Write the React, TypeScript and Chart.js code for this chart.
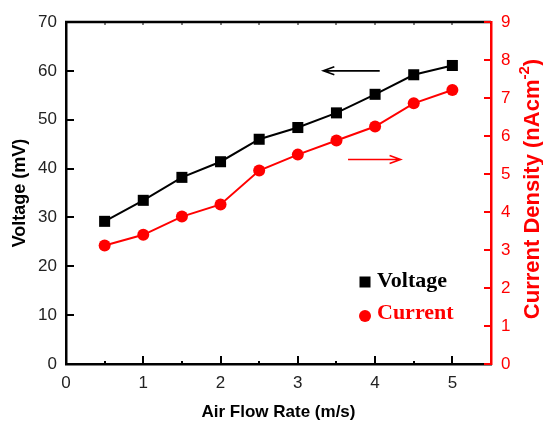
import React, { useEffect, useRef } from "react";
import { Chart, registerables } from "chart.js";

Chart.register(...registerables);

const airFlow = [0.5, 1, 1.5, 2, 2.5, 3, 3.5, 4, 4.5, 5];
const voltage = [29.2, 33.5, 38.2, 41.4, 46.0, 48.4, 51.4, 55.2, 59.2, 61.1];
const current = [3.12, 3.4, 3.88, 4.2, 5.09, 5.51, 5.88, 6.25, 6.86, 7.21];

const xTitle = "Air Flow Rate (m/s)";
const yLeftTitle = "Voltage (mV)";
const yRightTitle = "Current Density (nAcm";
const yRightSup = "-2";
const legendLabels = ["Voltage", "Current"];

const RED = "#ff0000";
const SANS = "Arial, 'Liberation Sans', sans-serif";

const decorPlugin = {
  id: "decor",
  afterDraw(chart: any) {
    const ctx = chart.ctx;
    const { left, right, top, bottom } = chart.chartArea;
    const xs = chart.scales.x;
    const yl = chart.scales.y;
    const yr = chart.scales.y1;
    ctx.save();
    // top border
    ctx.strokeStyle = "#000";
    ctx.lineWidth = 2.5;
    ctx.beginPath();
    ctx.moveTo(left - 1, top);
    ctx.lineTo(right, top);
    ctx.stroke();
    // tick marks
    ctx.lineWidth = 2;
    for (let v = 0; v <= 70; v += 10) {
      const y = Math.round(yl.getPixelForValue(v));
      ctx.beginPath();
      ctx.moveTo(left, y);
      ctx.lineTo(left + 8, y);
      ctx.stroke();
    }
    for (let v = 0.5; v <= 5.01; v += 0.5) {
      const x = Math.round(xs.getPixelForValue(v));
      const major = Math.abs(v - Math.round(v)) < 1e-6;
      ctx.lineWidth = 2;
      ctx.beginPath();
      ctx.moveTo(x, bottom);
      ctx.lineTo(x, bottom - (major ? 8 : 3));
      ctx.stroke();
      ctx.beginPath();
      ctx.lineWidth = 1;
      ctx.moveTo(x, top);
      ctx.lineTo(x, top + 3);
      ctx.stroke();
    }
    ctx.lineWidth = 2;
    ctx.strokeStyle = RED;
    for (let v = 0; v <= 9; v += 1) {
      const y = Math.round(yr.getPixelForValue(v));
      ctx.beginPath();
      ctx.moveTo(right, y);
      ctx.lineTo(right - 7, y);
      ctx.stroke();
    }
    // arrows
    const arrow = (x1: number, x2: number, y: number, color: string) => {
      ctx.strokeStyle = color;
      ctx.lineWidth = 1.6;
      ctx.beginPath();
      ctx.moveTo(x1, y);
      ctx.lineTo(x2, y);
      const dir = x2 > x1 ? -1 : 1;
      ctx.moveTo(x2 + dir * 11, y - 4);
      ctx.lineTo(x2, y);
      ctx.lineTo(x2 + dir * 11, y + 4);
      ctx.stroke();
    };
    arrow(xs.getPixelForValue(4.06), xs.getPixelForValue(3.33), yl.getPixelForValue(60), "#000");
    arrow(xs.getPixelForValue(3.65), xs.getPixelForValue(4.33), yr.getPixelForValue(5.38), RED);
    // legend
    const lx = 365;
    ctx.fillStyle = "#000";
    ctx.fillRect(lx - 5.5, 282 - 5.5, 11, 11);
    ctx.fillStyle = RED;
    ctx.beginPath();
    ctx.arc(lx, 316, 6, 0, Math.PI * 2);
    ctx.fill();
    ctx.font = "bold 22px 'Liberation Serif', 'Times New Roman', serif";
    ctx.textBaseline = "middle";
    ctx.textAlign = "left";
    ctx.fillStyle = "#000";
    ctx.fillText(legendLabels[0], 377, 281);
    ctx.fillStyle = RED;
    ctx.fillText(legendLabels[1], 377, 313);
    // right title with superscript
    ctx.translate(539, 189);
    ctx.rotate(-Math.PI / 2);
    const mainFont = "bold 22px " + SANS;
    const supFont = "bold 15px " + SANS;
    ctx.font = mainFont;
    const w1 = ctx.measureText(yRightTitle).width;
    const w3 = ctx.measureText(")").width;
    ctx.font = supFont;
    const w2 = ctx.measureText(yRightSup).width;
    const total = w1 + w2 + w3;
    let sx = -total / 2;
    ctx.fillStyle = RED;
    ctx.textBaseline = "alphabetic";
    ctx.font = mainFont;
    ctx.fillText(yRightTitle, sx, 0);
    sx += w1;
    ctx.font = supFont;
    ctx.fillText(yRightSup, sx, -10);
    sx += w2;
    ctx.font = mainFont;
    ctx.fillText(")", sx, 0);
    ctx.restore();
  },
};

export default function App() {
  const ref = useRef<HTMLCanvasElement | null>(null);
  useEffect(() => {
    if (!ref.current) return;
    const tickFont = { family: SANS, size: 17 };
    const chart = new Chart(ref.current, {
      type: "line",
      data: {
        datasets: [
          {
            label: "Voltage",
            data: airFlow.map((x, i) => ({ x, y: voltage[i] })),
            yAxisID: "y",
            borderColor: "#000",
            backgroundColor: "#000",
            borderWidth: 2,
            pointStyle: "rect",
            pointRadius: 7.8,
            pointBorderWidth: 0,
          },
          {
            label: "Current",
            data: airFlow.map((x, i) => ({ x, y: current[i] })),
            yAxisID: "y1",
            borderColor: RED,
            backgroundColor: RED,
            borderWidth: 2,
            pointStyle: "circle",
            pointRadius: 6,
            pointBorderWidth: 0,
          },
        ],
      },
      options: {
        animation: false,
        responsive: false,
        maintainAspectRatio: false,
        layout: { padding: { top: 22, left: 0, right: 0, bottom: 0 } },
        plugins: { legend: { display: false }, tooltip: { enabled: false } },
        scales: {
          x: {
            type: "linear",
            min: 0,
            max: 5.5,
            grid: { display: false, drawTicks: false },
            border: { color: "#000", width: 2.5 },
            ticks: { stepSize: 1, includeBounds: false, color: "#222", font: tickFont, padding: 9, maxRotation: 0 },
            title: {
              display: true,
              text: xTitle,
              color: "#000",
              font: { family: SANS, size: 17, weight: "bold" },
              padding: { top: 0, bottom: -1 },
            },
            afterFit: (s: any) => {
              s.height = 58;
            },
          },
          y: {
            type: "linear",
            position: "left",
            min: 0,
            max: 70,
            grid: { display: false, drawTicks: false },
            border: { color: "#000", width: 2.5 },
            ticks: { stepSize: 10, color: "#222", font: tickFont, padding: 9 },
            title: {
              display: true,
              text: yLeftTitle,
              color: "#000",
              font: { family: SANS, size: 18, weight: "bold" },
              padding: { top: 9, bottom: 0 },
            },
            afterFit: (s: any) => {
              s.width = 66;
            },
          },
          y1: {
            type: "linear",
            position: "right",
            min: 0,
            max: 9,
            grid: { display: false, drawTicks: false },
            border: { color: RED, width: 2.5 },
            ticks: { stepSize: 1, color: RED, font: tickFont, padding: 10 },
            afterFit: (s: any) => {
              s.width = 52;
            },
          },
        },
      } as any,
      plugins: [decorPlugin],
    });
    return () => chart.destroy();
  }, []);
  return (
    <div style={{ position: "fixed", left: 0, top: 0, width: 543, height: 422, background: "#fff" }}>
      <canvas ref={ref} width={543} height={422} style={{ width: 543, height: 422 }} />
    </div>
  );
}
